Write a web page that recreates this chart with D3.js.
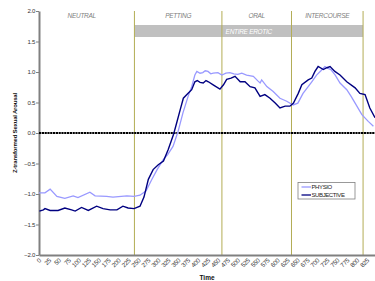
<!DOCTYPE html>
<html>
<head>
<meta charset="utf-8">
<script src="https://cdn.jsdelivr.net/npm/d3@7"></script>
<style>
  body { margin: 0; background: #fff; }
  svg { display: block; font-family: "Liberation Sans", Arial, sans-serif; }
</style>
</head>
<body>
<div id="chart"></div>
<script>
// time ticks on the x axis
var timeTicks = d3.range(0, 826, 25)
var yTicks = [-2, -1.5, -1, -0.5, 0, 0.5, 1, 1.5, 2]

// phase boundaries (time) and labels
var phaseNames = ["NEUTRAL", "PETTING", "ORAL", "INTERCOURSE"]
var phaseStart = [-25, 240, 460, 635]
var phaseEnd = [240, 460, 635, 815]
var eroticSpan = [240, 815]

// series
var physioT = [0, 15, 28, 45, 65, 86, 98, 128, 141, 170, 186, 221, 239, 254, 269, 283, 297, 312, 324, 337, 350, 362, 375, 384, 392, 397, 405, 412, 418, 425, 432, 438, 450, 460, 470, 480, 490, 500, 510, 522, 539, 551, 556, 560, 573, 589, 606, 623, 639, 651, 664, 677, 686, 698, 709, 719, 727, 734, 745, 757, 774, 785, 795, 812, 828, 841]
var physioV = [-0.98, -0.98, -0.92, -1.04, -1.07, -1.03, -1.06, -0.97, -1.03, -1.04, -1.05, -1.03, -1.04, -1.02, -0.95, -0.77, -0.6, -0.44, -0.35, -0.22, 0.03, 0.33, 0.6, 0.76, 0.95, 1.01, 0.98, 0.99, 1.02, 1.01, 0.97, 0.98, 0.99, 0.95, 0.98, 0.99, 0.97, 0.96, 0.98, 0.95, 0.93, 0.85, 0.82, 0.87, 0.76, 0.68, 0.57, 0.52, 0.46, 0.49, 0.65, 0.76, 0.84, 0.95, 1.02, 1.09, 1.06, 1.04, 0.95, 0.82, 0.71, 0.6, 0.49, 0.3, 0.19, 0.11]

var subjT = [1, 11, 15, 28, 48, 65, 82, 91, 107, 124, 145, 161, 179, 196, 211, 224, 239, 254, 264, 275, 287, 300, 313, 325, 338, 346, 355, 363, 375, 384, 392, 398, 405, 413, 420, 426, 438, 455, 464, 472, 483, 493, 506, 518, 531, 543, 556, 568, 581, 594, 606, 619, 631, 640, 652, 661, 677, 686, 694, 702, 715, 724, 732, 744, 757, 774, 795, 807, 820, 832, 845]
var subjV = [-1.28, -1.26, -1.24, -1.27, -1.27, -1.23, -1.26, -1.28, -1.22, -1.27, -1.2, -1.24, -1.26, -1.26, -1.2, -1.23, -1.24, -1.2, -1.05, -0.76, -0.6, -0.52, -0.46, -0.27, -0.03, 0.16, 0.38, 0.57, 0.65, 0.71, 0.84, 0.86, 0.83, 0.82, 0.86, 0.84, 0.79, 0.72, 0.79, 0.88, 0.9, 0.93, 0.84, 0.84, 0.76, 0.74, 0.6, 0.63, 0.57, 0.49, 0.41, 0.44, 0.44, 0.49, 0.65, 0.79, 0.87, 0.9, 1.01, 1.09, 1.04, 1.07, 1.09, 1.01, 0.95, 0.84, 0.74, 0.65, 0.63, 0.41, 0.25]

var seriesNames = ["PHYSIO", "SUBJECTIVE"]
var seriesColors = ["#9999ff", "#000080"]

var width = 375, height = 281
var x = d3.scaleLinear().domain([0, 845]).range([39, 375])
var y = d3.scaleLinear().domain([-2, 2]).range([255, 11])

var svg = d3.select("#chart").append("svg")
    .attr("width", width)
    .attr("height", height)

// erotic band
svg.append("rect")
    .attr("x", x(eroticSpan[0]))
    .attr("y", 25)
    .attr("width", x(eroticSpan[1]) - x(eroticSpan[0]))
    .attr("height", 12)
    .attr("fill", "#c0c0c0")
svg.append("text")
    .attr("x", (x(eroticSpan[0]) + x(eroticSpan[1])) / 2)
    .attr("y", 33.5)
    .attr("text-anchor", "middle")
    .attr("fill", "#fff")
    .style("font-size", "6.5px")
    .style("font-style", "italic")
    .style("letter-spacing", "-0.3px")
    .text("ENTIRE EROTIC")

// phase boundaries
svg.append("g").selectAll("line")
    .data(phaseEnd)
    .enter().append("line")
    .attr("x1", function(d) { return x(d) })
    .attr("x2", function(d) { return x(d) })
    .attr("y1", y(2))
    .attr("y2", y(-2))
    .attr("stroke", "#b3ad55")
    .attr("stroke-width", 1)

svg.append("g").selectAll("text")
    .data(phaseNames)
    .enter().append("text")
    .attr("x", function(d, i) { return (x(phaseStart[i]) + x(phaseEnd[i])) / 2 })
    .attr("y", 18)
    .attr("text-anchor", "middle")
    .attr("fill", "#808080")
    .style("font-size", "6.5px")
    .style("font-style", "italic")
    .style("letter-spacing", "-0.3px")
    .text(function(d) { return d })

// y axis
var yAxis = svg.append("g")
    .attr("transform", "translate(" + x(0) + ",0)")
    .call(d3.axisLeft(y).tickValues(yTicks).tickSize(3).tickSizeOuter(0).tickFormat(d3.format(".1f")))
yAxis.select(".domain").attr("stroke", "#808080").attr("stroke-width", 2)
yAxis.selectAll(".tick line").attr("stroke", "#808080")
yAxis.selectAll(".tick text")
    .attr("fill", "#333")
    .attr("x", -4)
    .style("font-size", "6px")
    .style("letter-spacing", "-0.3px")

// x axis, labels turned 45 degrees
var xAxis = svg.append("g")
    .attr("transform", "translate(0," + y(-2) + ")")
    .call(d3.axisBottom(x).tickValues(timeTicks).tickSize(0).tickSizeOuter(0).tickFormat(d3.format("d")))
xAxis.select(".domain").attr("stroke", "#808080").attr("stroke-width", 2)
xAxis.selectAll(".tick text").remove()
xAxis.selectAll(".tick").append("text")
    .attr("fill", "#333")
    .attr("text-anchor", "end")
    .attr("transform", "translate(2,6) rotate(-45)")
    .style("font-size", "6.3px")
    .style("letter-spacing", "-0.3px")
    .text(function(d) { return d })

// zero line
svg.append("line")
    .attr("x1", x(0))
    .attr("x2", width)
    .attr("y1", y(0))
    .attr("y2", y(0))
    .attr("stroke", "#000")
    .attr("stroke-width", 2)
    .attr("stroke-dasharray", "2.2,0.6")

// series
var line = d3.line()
    .x(function(d) { return x(d[0]) })
    .y(function(d) { return y(d[1]) })

var physio = d3.zip(physioT, physioV)
var subj = d3.zip(subjT, subjV)

svg.append("path")
    .datum(physio)
    .attr("d", line)
    .attr("fill", "none")
    .attr("stroke", seriesColors[0])
    .attr("stroke-width", 1.3)
svg.append("path")
    .datum(subj)
    .attr("d", line)
    .attr("fill", "none")
    .attr("stroke", seriesColors[1])
    .attr("stroke-width", 1.4)

// axis titles
svg.append("text")
    .attr("transform", "translate(17," + y(0) + ") rotate(-90)")
    .attr("text-anchor", "middle")
    .attr("fill", "#111")
    .style("font-size", "6px")
    .style("font-weight", "bold")
    .style("letter-spacing", "-0.2px")
    .text("Z-transformed Sexual Arousal")
svg.append("text")
    .attr("x", (x(0) + width) / 2)
    .attr("y", 280)
    .attr("text-anchor", "middle")
    .attr("fill", "#111")
    .style("font-size", "6.5px")
    .style("font-weight", "bold")
    .text("Time")

// legend
var legend = svg.append("g").attr("transform", "translate(298,182.5)")
legend.append("rect")
    .attr("width", 57)
    .attr("height", 16.5)
    .attr("fill", "#fff")
    .attr("stroke", "#808080")
    .attr("stroke-width", 0.8)
var items = legend.selectAll(".item")
    .data(seriesNames)
    .enter().append("g")
    .attr("transform", function(d, i) { return "translate(0," + (4.5 + i * 8) + ")" })
items.append("line")
    .attr("x1", 3.5)
    .attr("x2", 13)
    .attr("stroke", function(d, i) { return seriesColors[i] })
    .attr("stroke-width", 1.3)
items.append("text")
    .attr("x", 13.5)
    .attr("y", 2.2)
    .attr("fill", "#222")
    .style("font-size", "6px")
    .style("letter-spacing", "-0.4px")
    .text(function(d) { return d })
</script>
</body>
</html>
